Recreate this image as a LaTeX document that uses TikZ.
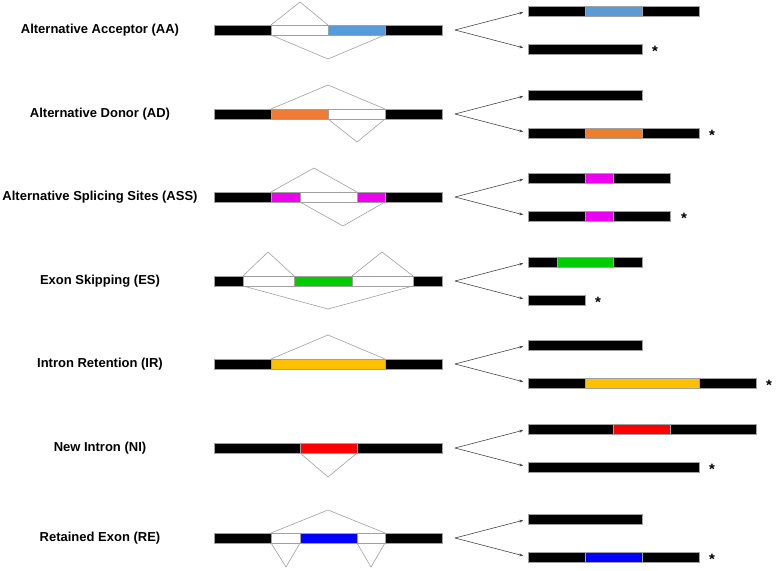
\documentclass[tikz,border=0pt]{standalone}
\usepackage{fontspec}
\setmainfont{Liberation Sans}
\usetikzlibrary{arrows.meta}
\definecolor{aablue}{RGB}{91,155,213}
\definecolor{adorange}{RGB}{237,125,49}
\definecolor{assmag}{RGB}{235,0,240}
\definecolor{esgreen}{RGB}{0,204,0}
\definecolor{irgold}{RGB}{255,192,0}
\definecolor{nired}{RGB}{255,0,0}
\definecolor{reblue}{RGB}{0,0,255}
\definecolor{splgray}{RGB}{160,160,160}
\definecolor{arrgray}{RGB}{70,70,70}
\newcommand\seg[5]{\node[seg,fill=#5,minimum width={(#3-#2)*1pt}] (#1) at (#2,#4) {};}
\tikzset{
  seg/.style={draw=splgray,line width=0.5pt,inner sep=0pt,outer sep=0pt,minimum height=10pt,anchor=west},
  splice/.style={draw=splgray,line width=0.6pt},
  arr/.style={draw=arrgray,line width=0.6pt,-{Stealth[length=4pt,width=3pt]},shorten >=5pt},
  lbl/.style={font=\fontsize{13}{15}\selectfont\bfseries,inner sep=0pt},
  star/.style={font=\fontsize{15}{17}\selectfont\bfseries,inner sep=0pt,anchor=west}
}
\begin{document}
\begin{tikzpicture}[x=1pt,y=-1pt]
\useasboundingbox (0,0) rectangle (778,570);
% ---------------- Row 1: AA ----------------
\node[lbl] (l1) at (100,30) {Alternative Acceptor (AA)};
\seg{a1}{214}{271}{30}{black}
\seg{a2}{271}{328}{30}{white}
\seg{a3}{328}{385}{30}{aablue}
\seg{a4}{385}{442}{30}{black}
\coordinate (a5) at (300,2);
\coordinate (a6) at (328,59);
\draw[splice] (a2.north west) -- (a5) -- (a2.north east);
\draw[splice] (a2.south west) -- (a6) -- (a3.south east);
\coordinate (ao) at (455,30);
\seg{au1}{528}{585}{11}{black}
\seg{au2}{585}{642}{11}{aablue}
\seg{au3}{642}{699}{11}{black}
\seg{al1}{528}{642}{49}{black}
\node[star] (as) at (652,51) {*};
\draw[arr] (ao) -- (au1.west);
\draw[arr] (ao) -- (al1.west);
% ---------------- Row 2: AD ----------------
\node[lbl] (l2) at (100,114) {Alternative Donor (AD)};
\seg{b1}{214}{271}{114}{black}
\seg{b2}{271}{328}{114}{adorange}
\seg{b3}{328}{385}{114}{white}
\seg{b4}{385}{442}{114}{black}
\coordinate (b5) at (328,85);
\coordinate (b6) at (357,142);
\draw[splice] (b2.north west) -- (b5) -- (b3.north east);
\draw[splice] (b3.south west) -- (b6) -- (b3.south east);
\coordinate (bo) at (455,114);
\seg{bu1}{528}{642}{95}{black}
\seg{bl1}{528}{585}{133}{black}
\seg{bl2}{585}{642}{133}{adorange}
\seg{bl3}{642}{699}{133}{black}
\node[star] (bs) at (709,135) {*};
\draw[arr] (bo) -- (bu1.west);
\draw[arr] (bo) -- (bl1.west);
% ---------------- Row 3: ASS ----------------
\node[lbl] (l3) at (100,197) {Alternative Splicing Sites (ASS)};
\seg{c1}{214}{271}{197}{black}
\seg{c2}{271}{300}{197}{assmag}
\seg{c3}{300}{357}{197}{white}
\seg{c4}{357}{385}{197}{assmag}
\seg{c5}{385}{442}{197}{black}
\coordinate (c6) at (314,168);
\coordinate (c7) at (343,226);
\draw[splice] (c2.north west) -- (c6) -- (c3.north east);
\draw[splice] (c3.south west) -- (c7) -- (c4.south east);
\coordinate (co) at (455,197);
\seg{cu1}{528}{585}{178}{black}
\seg{cu2}{585}{613}{178}{assmag}
\seg{cu3}{613}{670}{178}{black}
\seg{cl1}{528}{585}{216}{black}
\seg{cl2}{585}{613}{216}{assmag}
\seg{cl3}{613}{670}{216}{black}
\node[star] (cs) at (681,218) {*};
\draw[arr] (co) -- (cu1.west);
\draw[arr] (co) -- (cl1.west);
% ---------------- Row 4: ES ----------------
\node[lbl] (l4) at (100,281) {Exon Skipping (ES)};
\seg{d1}{214}{243}{281}{black}
\seg{d2}{243}{294}{281}{white}
\seg{d3}{294}{352}{281}{esgreen}
\seg{d4}{352}{413}{281}{white}
\seg{d5}{413}{442}{281}{black}
\coordinate (d6) at (268,252);
\coordinate (d7) at (382,252);
\coordinate (d8) at (328,309);
\draw[splice] (d2.north west) -- (d6) -- (d2.north east);
\draw[splice] (d4.north west) -- (d7) -- (d4.north east);
\draw[splice] (d2.south west) -- (d8) -- (d4.south east);
\coordinate (do) at (455,281);
\seg{du1}{528}{557}{262}{black}
\seg{du2}{557}{613}{262}{esgreen}
\seg{du3}{613}{642}{262}{black}
\seg{dl1}{528}{585}{300}{black}
\node[star] (ds) at (595,302) {*};
\draw[arr] (do) -- (du1.west);
\draw[arr] (do) -- (dl1.west);
% ---------------- Row 5: IR ----------------
\node[lbl] (l5) at (100,364) {Intron Retention (IR)};
\seg{e1}{214}{271}{364}{black}
\seg{e2}{271}{385}{364}{irgold}
\seg{e3}{385}{442}{364}{black}
\coordinate (e4) at (328,335);
\draw[splice] (e2.north west) -- (e4) -- (e2.north east);
\coordinate (eo) at (455,364);
\seg{eu1}{528}{642}{345}{black}
\seg{el1}{528}{585}{383}{black}
\seg{el2}{585}{699}{383}{irgold}
\seg{el3}{699}{756}{383}{black}
\node[star] (es) at (766,385) {*};
\draw[arr] (eo) -- (eu1.west);
\draw[arr] (eo) -- (el1.west);
% ---------------- Row 6: NI ----------------
\node[lbl] (l6) at (100,448) {New Intron (NI)};
\seg{f1}{214}{300}{448}{black}
\seg{f2}{300}{357}{448}{nired}
\seg{f3}{357}{442}{448}{black}
\coordinate (f4) at (328,477);
\draw[splice] (f2.south west) -- (f4) -- (f2.south east);
\coordinate (fo) at (455,448);
\seg{fu1}{528}{613}{429}{black}
\seg{fu2}{613}{670}{429}{nired}
\seg{fu3}{670}{756}{429}{black}
\seg{fl1}{528}{699}{467}{black}
\node[star] (fs) at (709,469) {*};
\draw[arr] (fo) -- (fu1.west);
\draw[arr] (fo) -- (fl1.west);
% ---------------- Row 7: RE ----------------
\node[lbl] (l7) at (100,538) {Retained Exon (RE)};
\seg{g1}{214}{271}{538}{black}
\seg{g2}{271}{300}{538}{white}
\seg{g3}{300}{357}{538}{reblue}
\seg{g4}{357}{385}{538}{white}
\seg{g5}{385}{442}{538}{black}
\coordinate (g6) at (328,510);
\coordinate (g7) at (286,567);
\coordinate (g8) at (371,567);
\draw[splice] (g2.north west) -- (g6) -- (g4.north east);
\draw[splice] (g2.south west) -- (g7) -- (g2.south east);
\draw[splice] (g4.south west) -- (g8) -- (g4.south east);
\coordinate (go) at (455,538);
\seg{gu1}{528}{642}{519}{black}
\seg{gl1}{528}{585}{557}{black}
\seg{gl2}{585}{642}{557}{reblue}
\seg{gl3}{642}{699}{557}{black}
\node[star] (gs) at (709,559) {*};
\draw[arr] (go) -- (gu1.west);
\draw[arr] (go) -- (gl1.west);
\end{tikzpicture}
\end{document}
